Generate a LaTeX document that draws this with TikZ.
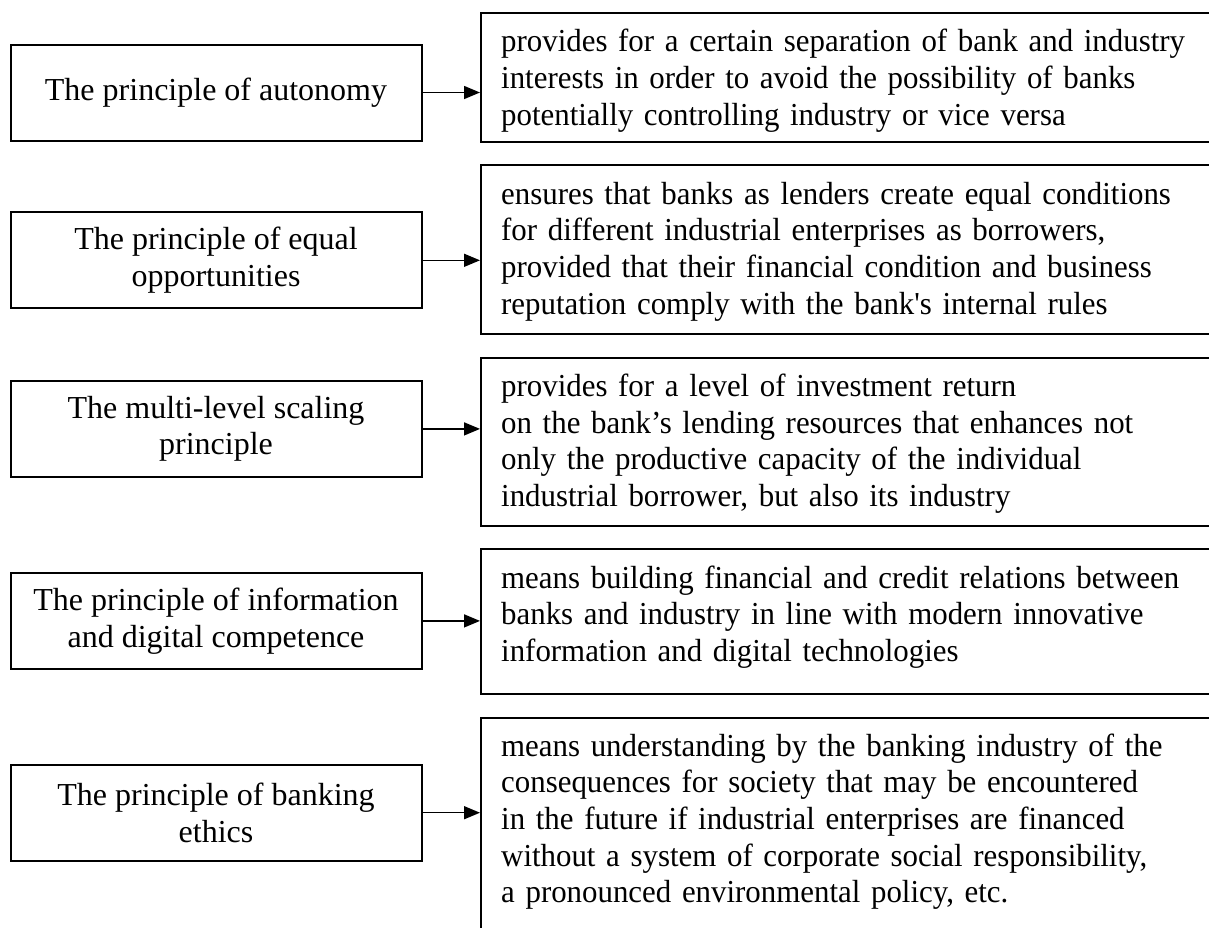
\documentclass[tikz,border=0pt]{standalone}
\usepackage{fontspec}
\setmainfont{Liberation Serif}[Ligatures=TeXOff]
\newfontfamily\rfont{Liberation Serif}[Ligatures=TeXOff, FakeStretch=0.965]
\usetikzlibrary{arrows.meta}
\tikzset{
  lbox/.style={draw, line width=2pt, minimum width=411pt, minimum height=96pt,
    align=center, inner sep=0pt, font=\fontsize{32}{36.7}\selectfont},
  rbox/.style={draw, line width=2pt, anchor=north west, inner sep=0pt, minimum width=733pt},
  rtext/.style={anchor=base west, text width=712pt, align=left, inner sep=0pt,
    font=\rfont\fontsize{32}{36.7}\selectfont},
  conn/.style={line width=1.5pt, -{Triangle[length=16pt,width=13pt]}}
}
\begin{document}
\begin{tikzpicture}[x=1pt,y=-1pt]
\useasboundingbox (0,0) rectangle (1209,927);
\clip (0,0) rectangle (1209,927);
\fill[white] (0,0) rectangle (1209,927);

% left boxes
\node[lbox] (l1) at (216,92.5) {The principle of autonomy};
\node[lbox] (l2) at (216,260.3) {The principle of equal\\opportunities};
\node[lbox] (l3) at (216,428.9) {The multi-level scaling\\principle};
\node[lbox] (l4) at (216,620.9) {The principle of information\\and digital competence};
\node[lbox] (l5) at (216,812.7) {The principle of banking\\ethics};

% right boxes
\node[rbox, minimum height=128.7pt] (r1) at (480,12) {};
\node[rbox, minimum height=168.4pt] (r2) at (480,164.3) {};
\node[rbox, minimum height=168.3pt] (r3) at (480,356.7) {};
\node[rbox, minimum height=144.4pt] (r4) at (480,548.3) {};
\node[rbox, minimum height=230pt] (r5) at (480,716.7) {};

% right texts
\node[rtext] (t1) at (501,51.7) {provides for a certain separation of bank and industry\\interests in order to avoid the possibility of banks\\potentially controlling industry or vice versa};
\node[rtext] (t2) at (501,204) {ensures that banks as lenders create equal conditions\\for different industrial enterprises as borrowers,\\provided that their financial condition and business\\reputation comply with the bank's internal rules};
\node[rtext] (t3) at (501,396.5) {provides for a level of investment return\\on the bank’s lending resources that enhances not\\only the productive capacity of the individual\\industrial borrower, but also its industry};
\node[rtext] (t4) at (501,588) {means building financial and credit relations between\\banks and industry in line with modern innovative\\information and digital technologies};
\node[rtext] (t5) at (501,756) {means understanding by the banking industry of the\\consequences for society that may be encountered\\in the future if industrial enterprises are financed\\without a system of corporate social responsibility,\\a pronounced environmental policy, etc.};

% connectors
\draw[conn] (l1.east) -- (l1.east -| r1.west);
\draw[conn] (l2.east) -- (l2.east -| r2.west);
\draw[conn] (l3.east) -- (l3.east -| r3.west);
\draw[conn] (l4.east) -- (l4.east -| r4.west);
\draw[conn] (l5.east) -- (l5.east -| r5.west);
\end{tikzpicture}
\end{document}
